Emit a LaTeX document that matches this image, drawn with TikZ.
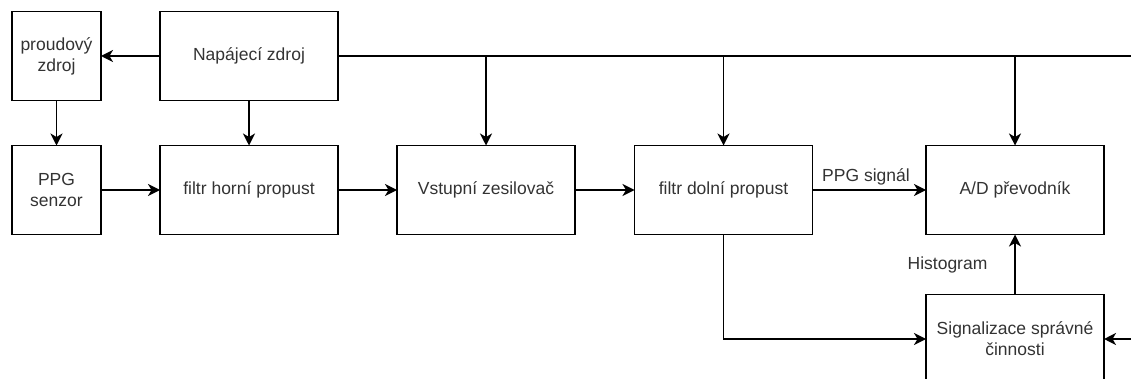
\documentclass[tikz,border=0pt]{standalone}
\usepackage{fontspec}
\setmainfont{Liberation Sans}
\usetikzlibrary{arrows.meta}
\definecolor{c333333}{RGB}{51,51,51}

\begin{document}
\begin{tikzpicture}[y=1pt, x=1pt, yscale=-1, inner sep=0pt, outer sep=0pt,
  blok/.style={draw, line width=1.7pt, minimum width=178pt, minimum height=89pt,
    align=center, text=c333333, font=\fontsize{17.5}{21}\selectfont},
  popis/.style={text=c333333, font=\fontsize{17.5}{21}\selectfont},
  spoj/.style={line width=1.7pt, -{Stealth[length=12pt, width=12pt, inset=3.5pt]}}]
\useasboundingbox (0,0) rectangle (1131,379);

  % bloky
  \path (56.5,56) node[blok, minimum width=89pt] (proudovy) {proudový\\zdroj};
  \path (249,56) node[blok] (napajeci) {Napájecí zdroj};
  \path (56.5,190) node[blok, minimum width=89pt] (senzor) {PPG\\senzor};
  \path (249,190) node[blok] (hornipropust) {filtr horní propust};
  \path (486,190) node[blok] (zesilovac) {Vstupní zesilovač};
  \path (723.5,190) node[blok] (dolnipropust) {filtr dolní propust};
  \path (1015,190) node[blok] (prevodnik) {A/D převodník};
  \path (1015,339) node[blok] (signalizace) {Signalizace správné\\činnosti};
  \coordinate (okraj1) at (1131,56);
  \coordinate (okraj2) at (1131,339);

  % napajeni
  \draw[line width=1.7pt] (napajeci.east) -- (okraj1);
  \draw[spoj] (napajeci.west) -- (proudovy.east);
  \draw[spoj] (napajeci.south) -- (hornipropust.north);
  \draw[spoj] (zesilovac.north |- napajeci.east) -- (zesilovac.north);
  \draw[spoj] (dolnipropust.north |- napajeci.east) -- (dolnipropust.north);
  \draw[spoj] (prevodnik.north |- napajeci.east) -- (prevodnik.north);

  % signal
  \draw[spoj] (proudovy.south) -- (senzor.north);
  \draw[spoj] (senzor.east) -- (hornipropust.west);
  \draw[spoj] (hornipropust.east) -- (zesilovac.west);
  \draw[spoj] (zesilovac.east) -- (dolnipropust.west);
  \draw[spoj] (dolnipropust.east) -- (prevodnik.west);
  \path (866,177) node[popis] (text1) {PPG signál};
  \draw[spoj] (dolnipropust.south) |- (signalizace.west);
  \draw[spoj] (signalizace.north) -- (prevodnik.south);
  \path (947.5,265) node[popis] (text2) {Histogram};
  \draw[spoj] (okraj2) -- (signalizace.east);

\end{tikzpicture}
\end{document}
